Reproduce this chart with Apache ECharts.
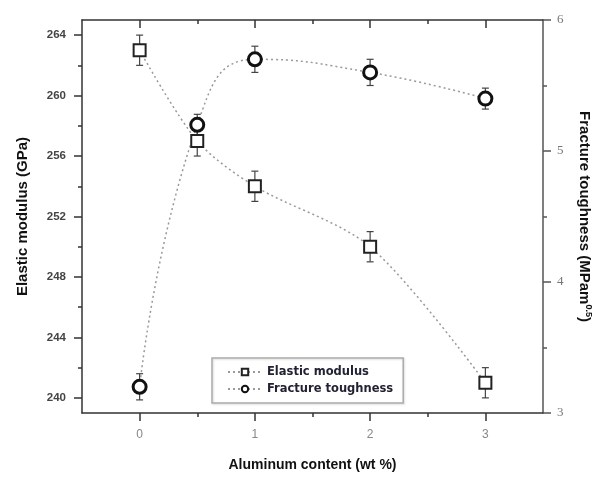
<!DOCTYPE html>
<html>
<head>
<meta charset="utf-8">
<script src="https://cdn.jsdelivr.net/npm/echarts@6/dist/echarts.min.js"></script>
<style>html,body{margin:0;padding:0;background:#fff}#c{width:601px;height:477px}</style>
</head>
<body>
<div id="c"></div>
<script>
const aluminum = [0, 0.5, 1, 2, 3];
const elasticModulus = [263, 257, 254, 250, 241];
const elasticErr = [1, 1, 1, 1, 1];
const fractureToughness = [3.2, 5.2, 5.7, 5.6, 5.4];
const fractureErr = [0.1, 0.08, 0.1, 0.1, 0.08];
const xMajorTicks = [0, 1, 2, 3];
const xMinorTicks = [0.5, 1.5, 2.5];
const leftMajorTicks = [240, 244, 248, 252, 256, 260, 264];
const leftMinorTicks = [242, 246, 250, 254, 258, 262];

const chart = echarts.init(document.getElementById('c'));
const axisCol = '#333';
const frame = {show: true, onZero: false, lineStyle: {color: axisCol, width: 1.5}};
const noLine = {show: false, onZero: false};

function errRender(params, api) {
  const x = api.value(0), y = api.value(1), e = api.value(2);
  const t = api.coord([x, y + e]), b = api.coord([x, y - e]);
  const w = 3.5, st = {stroke: '#444', lineWidth: 1.2};
  return {type: 'group', children: [
    {type: 'line', shape: {x1: t[0], y1: t[1], x2: b[0], y2: b[1]}, style: st},
    {type: 'line', shape: {x1: t[0] - w, y1: t[1], x2: t[0] + w, y2: t[1]}, style: st},
    {type: 'line', shape: {x1: b[0] - w, y1: b[1], x2: b[0] + w, y2: b[1]}, style: st}
  ]};
}

const xBase = {type: 'value', min: -0.5, max: 3.5, splitLine: {show: false}};
chart.setOption({
  animation: false,
  grid: {left: 82, right: 52, top: 20, bottom: 62},
  legend: {
    data: ['Elastic modulus', 'Fracture toughness'],
    orient: 'vertical', left: 212, top: 358,
    itemWidth: 34, itemHeight: 8, itemGap: 5,
    padding: [8, 10, 8, 15],
    borderColor: '#aaa', borderWidth: 1.5,
    shadowColor: 'rgba(0,0,0,0.15)', shadowBlur: 2, shadowOffsetX: 1, shadowOffsetY: 1,
    textStyle: {fontFamily: 'DejaVu Sans', fontSize: 11.5, color: '#223', fontWeight: 'bold'}
  },
  xAxis: [
    Object.assign({}, xBase, {
      position: 'bottom',
      name: 'Aluminum content (wt %)', nameLocation: 'middle', nameGap: 45,
      nameTextStyle: {fontFamily: 'Liberation Sans', fontWeight: 'bold', fontSize: 14, color: '#111'},
      axisLine: frame,
      axisTick: {show: true, customValues: xMajorTicks, length: 8, lineStyle: {color: axisCol, width: 1.5}},
      axisLabel: {customValues: xMajorTicks, margin: 16, fontFamily: 'Liberation Sans', fontSize: 12, color: '#888'}
    }),
    Object.assign({}, xBase, {
      position: 'bottom',
      axisLine: noLine,
      axisTick: {show: true, customValues: xMinorTicks, length: 4, lineStyle: {color: axisCol, width: 1.5}},
      axisLabel: {show: false}
    }),
    Object.assign({}, xBase, {
      position: 'top',
      axisLine: frame,
      axisTick: {show: true, inside: true, customValues: xMajorTicks, length: 8, lineStyle: {color: axisCol, width: 1.5}},
      axisLabel: {show: false}
    }),
    Object.assign({}, xBase, {
      position: 'top',
      axisLine: noLine,
      axisTick: {show: true, inside: true, customValues: xMinorTicks, length: 4, lineStyle: {color: axisCol, width: 1.5}},
      axisLabel: {show: false}
    })
  ],
  yAxis: [
    {
      type: 'value', min: 239, max: 265, position: 'left',
      splitLine: {show: false},
      name: 'Elastic modulus (GPa)', nameLocation: 'middle', nameGap: 52,
      nameTextStyle: {fontFamily: 'Liberation Sans', fontWeight: 'bold', fontSize: 15, color: '#111'},
      axisLine: frame,
      axisTick: {show: true, customValues: leftMajorTicks, length: 8, lineStyle: {color: axisCol, width: 1.5}},
      axisLabel: {customValues: leftMajorTicks, margin: 16, fontFamily: 'Liberation Sans', fontWeight: 'bold', fontSize: 11.5, color: '#444'}
    },
    {
      type: 'value', min: 3, max: 6, interval: 1, position: 'right',
      splitLine: {show: false},
      name: '{a|Fracture toughness (MPam}{s|0.5}{a|)}', nameLocation: 'middle', nameGap: 32, nameRotate: -90,
      nameTextStyle: {rich: {
        a: {fontFamily: 'Liberation Sans', fontWeight: 'bold', fontSize: 15, color: '#111'},
        s: {fontFamily: 'Liberation Sans', fontWeight: 'bold', fontSize: 9, color: '#111', padding: [0, 0, 9, 0]}
      }},
      axisLine: {show: true, onZero: false, lineStyle: {color: '#555', width: 1.5}},
      axisTick: {show: true, length: 8, lineStyle: {color: '#555', width: 1.5}},
      minorTick: {show: true, splitNumber: 2, length: 4, lineStyle: {color: '#555', width: 1.5}},
      axisLabel: {margin: 14, fontFamily: 'Liberation Serif', fontSize: 13, color: '#777'}
    },
    {
      type: 'value', min: 239, max: 265, position: 'left',
      splitLine: {show: false},
      axisLine: noLine,
      axisTick: {show: true, customValues: leftMinorTicks, length: 4, lineStyle: {color: axisCol, width: 1.5}},
      axisLabel: {show: false}
    }
  ],
  series: [
    {
      type: 'custom', name: 'emErr', xAxisIndex: 0, yAxisIndex: 0, z: 1,
      renderItem: errRender, encode: {x: 0, y: 1},
      data: aluminum.map((x, i) => [x, elasticModulus[i], elasticErr[i]])
    },
    {
      type: 'custom', name: 'ftErr', xAxisIndex: 0, yAxisIndex: 1, z: 1,
      renderItem: errRender, encode: {x: 0, y: 1},
      data: aluminum.map((x, i) => [x, fractureToughness[i], fractureErr[i]])
    },
    {
      type: 'line', name: 'Elastic modulus', xAxisIndex: 0, yAxisIndex: 0, z: 3,
      smooth: 0.3, symbol: 'rect', symbolSize: 12,
      lineStyle: {color: '#999', width: 1.5, type: [2, 3]},
      itemStyle: {color: '#fff', borderColor: '#222', borderWidth: 2},
      data: aluminum.map((x, i) => [x, elasticModulus[i]])
    },
    {
      type: 'line', name: 'Fracture toughness', xAxisIndex: 0, yAxisIndex: 1, z: 3,
      smooth: 0.5, symbol: 'circle', symbolSize: 13,
      lineStyle: {color: '#999', width: 1.5, type: [2, 3]},
      itemStyle: {color: '#fff', borderColor: '#111', borderWidth: 3},
      data: aluminum.map((x, i) => [x, fractureToughness[i]])
    }
  ]
});
</script>
</body>
</html>
